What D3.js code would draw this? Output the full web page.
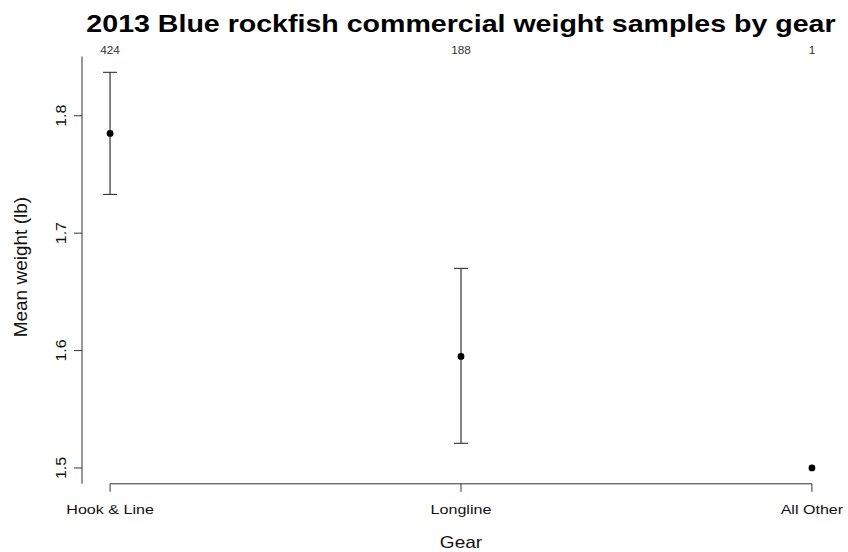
<!DOCTYPE html>
<html>
<head>
<meta charset="utf-8">
<script src="https://cdn.jsdelivr.net/npm/d3@7"></script>
<style>
  html, body { margin: 0; padding: 0; background: #fff; }
  svg { display: block; }
  text { font-family: "Liberation Sans", Arial, sans-serif; fill: #111; }
</style>
</head>
<body>
<svg id="chart" width="848" height="552"></svg>
<script>
// Mean weight by gear type, with interval bounds and sample counts
const gears = ["Hook & Line", "Longline", "All Other"];
const meanWeight = [1.785, 1.595, 1.500];
const upperBound = [1.837, 1.670, null];
const lowerBound = [1.733, 1.521, null];
const sampleCount = [424, 188, 1];
const yTicks = [1.5, 1.6, 1.7, 1.8];

const svg = d3.select("#chart");
const plot = { left: 82, right: 840, top: 56.5, bottom: 483.8 };

// R-style 4% padding around the data range
const lo = d3.min(gears.map((g, i) => lowerBound[i] ?? meanWeight[i]));
const hi = d3.max(gears.map((g, i) => upperBound[i] ?? meanWeight[i]));
const yPad = 0.04 * (hi - lo);
const y = d3.scaleLinear().domain([lo - yPad, hi + yPad]).range([plot.bottom, plot.top]);
const xPad = 0.04 * (gears.length - 1);
const x = d3.scaleLinear().domain([1 - xPad, gears.length + xPad]).range([plot.left, plot.right]);

// widen horizontal text glyphs slightly
function widen(sel, k) {
  sel.each(function () {
    const w = this.getComputedTextLength();
    this.setAttribute("textLength", w * k);
    this.setAttribute("lengthAdjust", "spacingAndGlyphs");
  });
  return sel;
}

// Title
svg.append("text")
  .attr("x", (plot.left + plot.right) / 2)
  .attr("y", 31.5)
  .attr("text-anchor", "middle")
  .attr("font-size", 24)
  .attr("font-weight", "bold")
  .style("fill", "#000")
  .text("2013 Blue rockfish commercial weight samples by gear")
  .call(widen, 1.19);

// Left axis
const yAxis = svg.append("g");
yAxis.append("line")
  .attr("x1", plot.left).attr("x2", plot.left)
  .attr("y1", plot.top).attr("y2", plot.bottom)
  .attr("stroke", "#333").attr("stroke-width", 1);
yAxis.selectAll("line.tick").data(yTicks).join("line")
  .attr("class", "tick")
  .attr("x1", plot.left - 8).attr("x2", plot.left)
  .attr("y1", d => y(d)).attr("y2", d => y(d))
  .attr("stroke", "#333").attr("stroke-width", 1);
yAxis.selectAll("text").data(yTicks).join("text")
  .attr("transform", d => `translate(66,${y(d)}) rotate(-90)`)
  .attr("text-anchor", "middle")
  .attr("font-size", 15)
  .text(d => d.toFixed(1))
  .call(widen, 1.06);

// Bottom axis
const xAxis = svg.append("g");
xAxis.append("line")
  .attr("x1", x(1)).attr("x2", x(gears.length))
  .attr("y1", plot.bottom).attr("y2", plot.bottom)
  .attr("stroke", "#333").attr("stroke-width", 1);
xAxis.selectAll("line.tick").data(gears).join("line")
  .attr("class", "tick")
  .attr("x1", (d, i) => x(i + 1)).attr("x2", (d, i) => x(i + 1))
  .attr("y1", plot.bottom).attr("y2", plot.bottom + 8)
  .attr("stroke", "#333").attr("stroke-width", 1);
xAxis.selectAll("text").data(gears).join("text")
  .attr("x", (d, i) => x(i + 1))
  .attr("y", 514)
  .attr("text-anchor", "middle")
  .attr("font-size", 13.5)
  .text(d => d)
  .call(widen, 1.19);

// Axis titles
svg.append("text")
  .attr("transform", `translate(27,${(plot.top + plot.bottom) / 2 - 3}) rotate(-90)`)
  .attr("text-anchor", "middle")
  .attr("font-size", 19)
  .text("Mean weight (lb)");
svg.append("text")
  .attr("x", (plot.left + plot.right) / 2)
  .attr("y", 548)
  .attr("text-anchor", "middle")
  .attr("font-size", 17)
  .text("Gear")
  .call(widen, 1.12);

// Sample counts above each gear
svg.append("g").selectAll("text").data(sampleCount).join("text")
  .attr("x", (d, i) => x(i + 1))
  .attr("y", 54)
  .attr("text-anchor", "middle")
  .attr("font-size", 10.5)
  .style("fill", "#333")
  .text(d => d)
  .call(widen, 1.12);

// Interval bars
const bars = gears.map((g, i) => ({ i, lo: lowerBound[i], hi: upperBound[i] }))
  .filter(d => d.lo != null && d.hi != null);
const eb = svg.append("g");
eb.selectAll("line.stem").data(bars).join("line")
  .attr("class", "stem")
  .attr("x1", d => x(d.i + 1)).attr("x2", d => x(d.i + 1))
  .attr("y1", d => y(d.lo)).attr("y2", d => y(d.hi))
  .attr("stroke", "#777").attr("stroke-width", 1.8);
["lo", "hi"].forEach(k => {
  eb.selectAll(`line.cap-${k}`).data(bars).join("line")
    .attr("class", `cap-${k}`)
    .attr("x1", d => x(d.i + 1) - 7).attr("x2", d => x(d.i + 1) + 7)
    .attr("y1", d => y(d[k])).attr("y2", d => y(d[k]))
    .attr("stroke", "#333").attr("stroke-width", 1.1);
});

// Mean points
svg.append("g").selectAll("circle").data(meanWeight).join("circle")
  .attr("cx", (d, i) => x(i + 1))
  .attr("cy", d => y(d))
  .attr("r", 3.4)
  .attr("fill", "#000");
</script>
</body>
</html>
